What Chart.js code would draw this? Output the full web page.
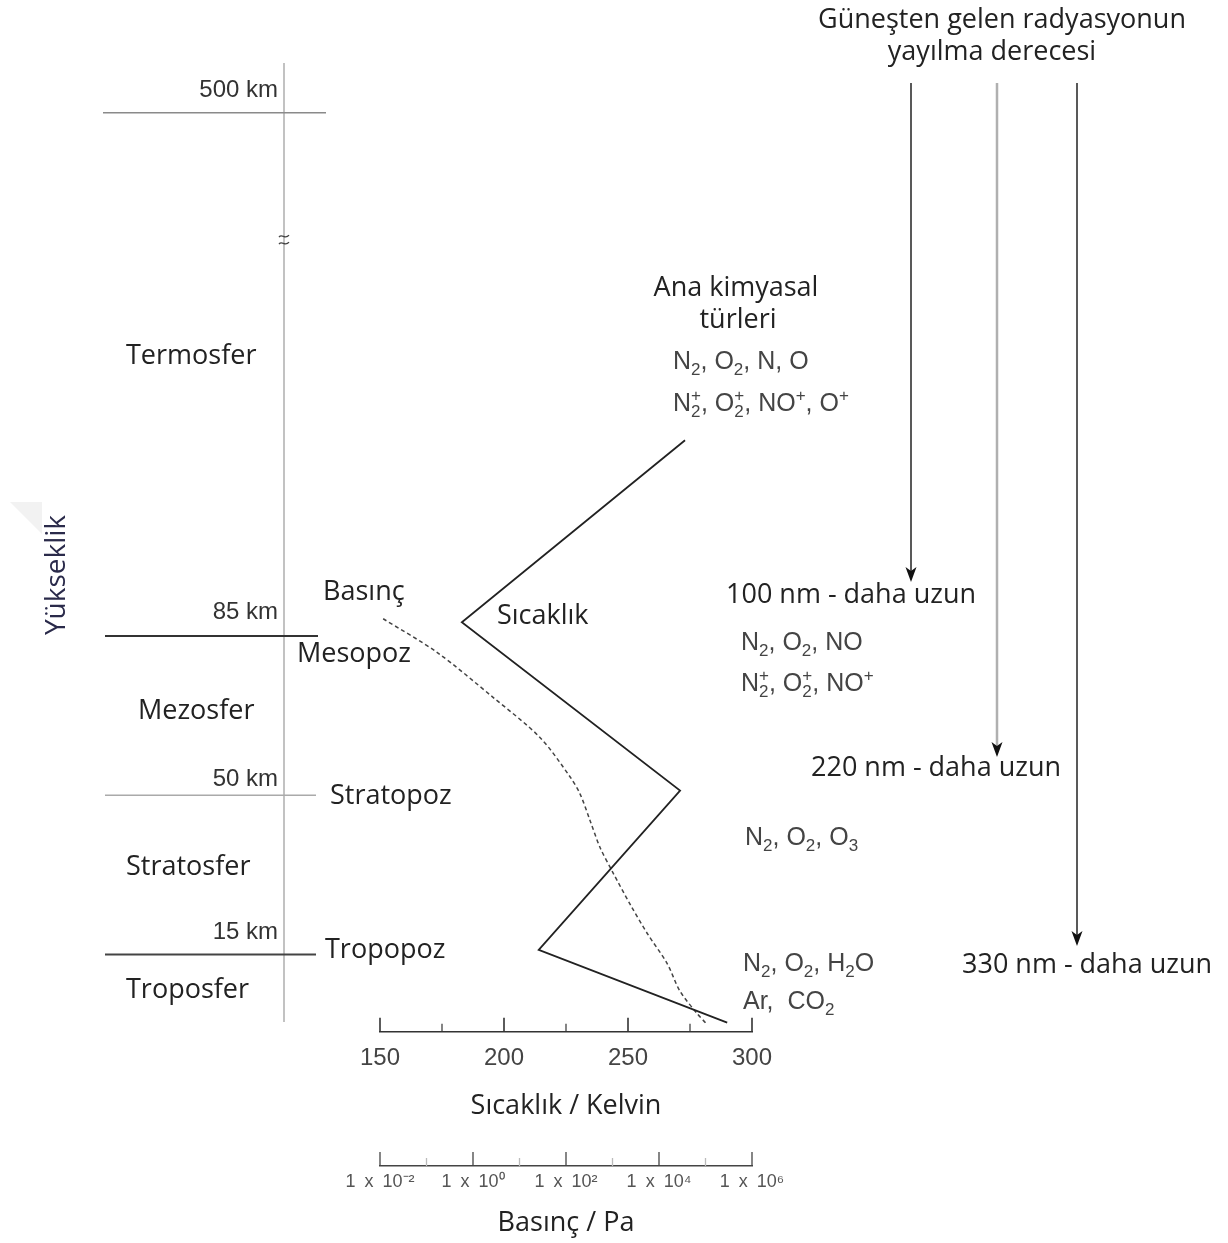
<!DOCTYPE html>
<html>
<head>
<meta charset="utf-8">
<title>Atmosfer katmanları</title>
<script src="https://cdn.jsdelivr.net/npm/chart.js@4.4.1/dist/chart.umd.min.js"></script>
<style>
  html, body { margin: 0; padding: 0; background: #fff; }
  canvas { display: block; }
</style>
</head>
<body>
<canvas id="atmo" width="1228" height="1243"></canvas>
<script>
// Temperature profile: altitude (km) and temperature (K)
const tempAltitudeKm = [0, 16, 51, 88, 128];
const temperatureK   = [290, 214, 271, 183, 273];

// Pressure profile: altitude (km) and pressure (Pa)
const pressureAltitudeKm = [0, 2, 7, 13, 19.6, 26, 33, 38.5, 44.4, 50.3, 54, 62.7, 71.5, 81.4, 88.8];
const pressurePa         = [100000, 66000, 28000, 15000, 5600, 2400, 1020, 540, 330, 200, 123, 27.5, 2.7, 0.168, 0.0116];

// Axis ticks
const temperatureTicks      = [150, 175, 200, 225, 250, 275, 300];
const pressureTickExponents = [-2, -1, 0, 1, 2, 3, 4, 5, 6];

// Layer boundaries (km) and their names
const boundaryKm    = [15, 50, 85, 500];
const boundaryNames = ['Tropopoz', 'Stratopoz', 'Mesopoz', ''];
const layerNames    = ['Troposfer', 'Stratosfer', 'Mezosfer', 'Termosfer'];

// Solar radiation penetration
const radiationLabels = ['100 nm - daha uzun', '220 nm - daha uzun', '330 nm - daha uzun'];

// Main chemical species per layer ( _x subscript, ^x superscript )
const speciesThermo = ['N_2, O_2, N, O', 'N_2^+, O_2^+, NO^+, O^+'];
const speciesMeso   = ['N_2, O_2, NO', 'N_2^+, O_2^+, NO^+'];
const speciesStrato = ['N_2, O_2, O_3'];
const speciesTropo  = ['N_2, O_2, H_2O', 'Ar,  CO_2'];

const SANS  = '"Open Sans", "DejaVu Sans", sans-serif';
const ARIAL = '"Liberation Sans", Arial, sans-serif';
const SUP = { '-': '\u207B', '0': '\u2070', '1': '\u00B9', '2': '\u00B2', '3': '\u00B3', '4': '\u2074', '5': '\u2075', '6': '\u2076' };
const EN = '\u2002';

// the scale is broken above the mesosphere: 500 km sits at the 200 mark
const axisPos = km => (km > 150 ? 200 : km);

function label(ctx, s, x, y, opt = {}) {
  ctx.save();
  ctx.font = opt.font || `27px ${SANS}`;
  ctx.fillStyle = opt.color || '#222';
  ctx.textAlign = opt.align || 'left';
  ctx.textBaseline = 'middle';
  ctx.fillText(s, x, y);
  ctx.restore();
}

function formula(ctx, s, x, y) {
  const big = `25px ${ARIAL}`, small = `17px ${ARIAL}`;
  const base = y + 9;
  ctx.save();
  ctx.fillStyle = '#444';
  ctx.textBaseline = 'alphabetic';
  ctx.textAlign = 'left';
  let cx = x, run = '';
  const flush = () => {
    if (!run) return;
    ctx.font = big;
    ctx.fillText(run, cx, base);
    cx += ctx.measureText(run).width;
    run = '';
  };
  for (let i = 0; i < s.length; i++) {
    const c = s[i];
    if (c === '_' || c === '^') {
      flush();
      ctx.font = small;
      let w;
      if (c === '_') {
        ctx.fillText(s[i + 1], cx, base + 6);
        w = ctx.measureText(s[i + 1]).width;
        i++;
        if (s[i + 1] === '^') {
          ctx.fillText(s[i + 2], cx, base - 10);
          w = Math.max(w, ctx.measureText(s[i + 2]).width);
          i += 2;
        }
      } else {
        ctx.fillText(s[i + 1], cx, base - 10);
        w = ctx.measureText(s[i + 1]).width;
        i++;
      }
      cx += w;
    } else {
      run += c;
    }
  }
  flush();
  ctx.restore();
}

function line(ctx, x1, y1, x2, y2, color, width) {
  ctx.save();
  ctx.strokeStyle = color;
  ctx.lineWidth = width;
  ctx.beginPath();
  ctx.moveTo(x1, y1);
  ctx.lineTo(x2, y2);
  ctx.stroke();
  ctx.restore();
}

function arrow(ctx, x, y0, y1, shaftColor, shaftWidth) {
  line(ctx, x, y0, x, y1 - 10, shaftColor, shaftWidth);
  ctx.save();
  ctx.fillStyle = '#111';
  ctx.beginPath();
  ctx.moveTo(x, y1);
  ctx.lineTo(x - 5.5, y1 - 15);
  ctx.lineTo(x, y1 - 11);
  ctx.lineTo(x + 5.5, y1 - 15);
  ctx.closePath();
  ctx.fill();
  ctx.restore();
}

const decorations = {
  id: 'decorations',
  afterDraw(chart) {
    const ctx = chart.ctx;
    const y = chart.scales.y;
    const xs = chart.scales.x;
    const xp = chart.scales.xP;

    // upward tick marks on both horizontal axes
    xs.ticks.forEach(t => {
      const px = xs.getPixelForValue(t.value);
      const major = t.value % 50 === 0;
      line(ctx, px, xs.top, px, xs.top - (major ? 14 : 8), '#333', major ? 1.6 : 1.2);
    });
    xp.ticks.forEach((t, i) => {
      const px = xp.getPixelForValue(t.value);
      const major = pressureTickExponents[i] % 2 === 0;
      line(ctx, px, xp.top, px, xp.top - (major ? 14 : 8), major ? '#444' : '#bbb', 1.3);
    });

    // altitude axis
    const axisX = 284;
    line(ctx, axisX, 63, axisX, 1022, '#a8a8a8', 1.4);
    const brk = y.getPixelForValue(172);
    ctx.save();
    ctx.strokeStyle = '#444';
    ctx.lineWidth = 1.3;
    [-4, 3].forEach(dy => {
      ctx.beginPath();
      ctx.moveTo(axisX - 5, brk + dy + 1);
      ctx.bezierCurveTo(axisX - 2, brk + dy - 3, axisX + 1, brk + dy + 4, axisX + 5, brk + dy - 1);
      ctx.stroke();
    });
    ctx.restore();

    // boundary lines and km labels
    const boundaryStyle = [
      { c: '#444', w: 2, x1: 105, x2: 316, dy: -22 },
      { c: '#aaa', w: 1.5, x1: 105, x2: 316, dy: -16 },
      { c: '#333', w: 2, x1: 105, x2: 318, dy: -24 },
      { c: '#8a8a8a', w: 1.5, x1: 103, x2: 326, dy: -22 }
    ];
    boundaryKm.forEach((km, i) => {
      const py = y.getPixelForValue(axisPos(km));
      const st = boundaryStyle[i];
      line(ctx, st.x1, py, st.x2, py, st.c, st.w);
      label(ctx, km + ' km', 278, py + st.dy, { font: `24px ${ARIAL}`, color: '#333', align: 'right' });
    });

    // boundary names
    label(ctx, boundaryNames[0], 325, y.getPixelForValue(15) - 4);
    label(ctx, boundaryNames[1], 330, y.getPixelForValue(50) + 1);
    label(ctx, boundaryNames[2], 297, y.getPixelForValue(85) + 18);

    // layer names
    label(ctx, layerNames[0], 126, 990);
    label(ctx, layerNames[1], 126, 867);
    label(ctx, layerNames[2], 138, 711);
    label(ctx, layerNames[3], 126, 356);

    // curve names
    label(ctx, 'Basınç', 323, 592);
    label(ctx, 'Sıcaklık', 497, 616);

    // vertical axis title
    ctx.save();
    ctx.fillStyle = '#f2f2f2';
    ctx.beginPath();
    ctx.moveTo(10, 502); ctx.lineTo(42, 502); ctx.lineTo(42, 534);
    ctx.closePath(); ctx.fill();
    ctx.translate(57, 575);
    ctx.rotate(-Math.PI / 2);
    ctx.font = `28px ${SANS}`;
    ctx.fillStyle = '#2a2a4a';
    ctx.textAlign = 'center';
    ctx.textBaseline = 'middle';
    ctx.fillText('Yükseklik', 0, 0);
    ctx.restore();

    // species
    label(ctx, 'Ana kimyasal', 736, 288, { align: 'center' });
    label(ctx, 'türleri', 738, 320, { align: 'center' });
    speciesThermo.forEach((s, i) => formula(ctx, s, 673, 360 + i * 42));
    speciesMeso.forEach((s, i) => formula(ctx, s, 741, 641 + i * 41));
    speciesStrato.forEach((s, i) => formula(ctx, s, 745, 836 + i * 40));
    speciesTropo.forEach((s, i) => formula(ctx, s, 743, 962 + i * 38));

    // solar radiation
    label(ctx, 'Güneşten gelen radyasyonun', 1002, 20, { align: 'center' });
    label(ctx, 'yayılma derecesi', 992, 52, { align: 'center' });
    arrow(ctx, 911, 83, 582, '#222', 1.5);
    arrow(ctx, 997, 83, 757, '#b0b0b0', 2.5);
    arrow(ctx, 1077, 83, 946, '#222', 1.5);
    label(ctx, radiationLabels[0], 726, 595);
    label(ctx, radiationLabels[1], 811, 768);
    label(ctx, radiationLabels[2], 962, 965);
  }
};

new Chart(document.getElementById('atmo'), {
  type: 'scatter',
  data: {
    datasets: [
      {
        label: 'Sıcaklık',
        data: tempAltitudeKm.map((km, i) => ({ x: temperatureK[i], y: km })),
        xAxisID: 'x',
        yAxisID: 'y',
        showLine: true,
        borderColor: '#222',
        borderWidth: 1.8,
        pointRadius: 0,
        tension: 0
      },
      {
        label: 'Basınç',
        data: pressureAltitudeKm.map((km, i) => ({ x: pressurePa[i], y: km })),
        xAxisID: 'xP',
        yAxisID: 'y',
        showLine: true,
        borderColor: '#444',
        borderWidth: 1.5,
        borderDash: [4, 3],
        pointRadius: 0,
        tension: 0.3
      }
    ]
  },
  options: {
    responsive: false,
    animation: false,
    devicePixelRatio: 1,
    layout: { padding: { left: 380, right: 476, top: 8, bottom: 0 } },
    plugins: { legend: { display: false }, tooltip: { enabled: false } },
    scales: {
      y: { type: 'linear', min: -2, max: 223, display: false },
      x: {
        type: 'linear',
        position: 'bottom',
        min: 150,
        max: 300,
        afterBuildTicks: s => { s.ticks = temperatureTicks.map(v => ({ value: v })); },
        grid: { display: false, drawTicks: false },
        border: { display: true, color: '#333', width: 1.5 },
        ticks: {
          autoSkip: false,
          maxRotation: 0,
          padding: 12,
          color: '#444',
          font: { family: ARIAL, size: 24 },
          callback: v => (v % 50 === 0 ? String(v) : '')
        },
        title: {
          display: true,
          text: 'Sıcaklık / Kelvin',
          color: '#222',
          font: { family: SANS, size: 27 },
          padding: { top: 6, bottom: 43 }
        }
      },
      xP: {
        type: 'logarithmic',
        position: 'bottom',
        min: 0.01,
        max: 1e6,
        afterBuildTicks: s => { s.ticks = pressureTickExponents.map(e => ({ value: Math.pow(10, e) })); },
        grid: { display: false, drawTicks: false },
        border: { display: true, color: '#444', width: 1.5 },
        ticks: {
          autoSkip: false,
          maxRotation: 0,
          padding: 5,
          color: '#555',
          font: { family: ARIAL, size: 18 },
          callback: (v, i) => {
            const e = pressureTickExponents[i];
            if (e % 2 !== 0) return '';
            return '1' + EN + 'x' + EN + '10' + String(e).split('').map(ch => SUP[ch]).join('');
          }
        },
        title: {
          display: true,
          text: 'Basınç / Pa',
          color: '#222',
          font: { family: SANS, size: 27 },
          padding: { top: 10, bottom: 3 }
        }
      }
    }
  },
  plugins: [decorations]
});
</script>
</body>
</html>
